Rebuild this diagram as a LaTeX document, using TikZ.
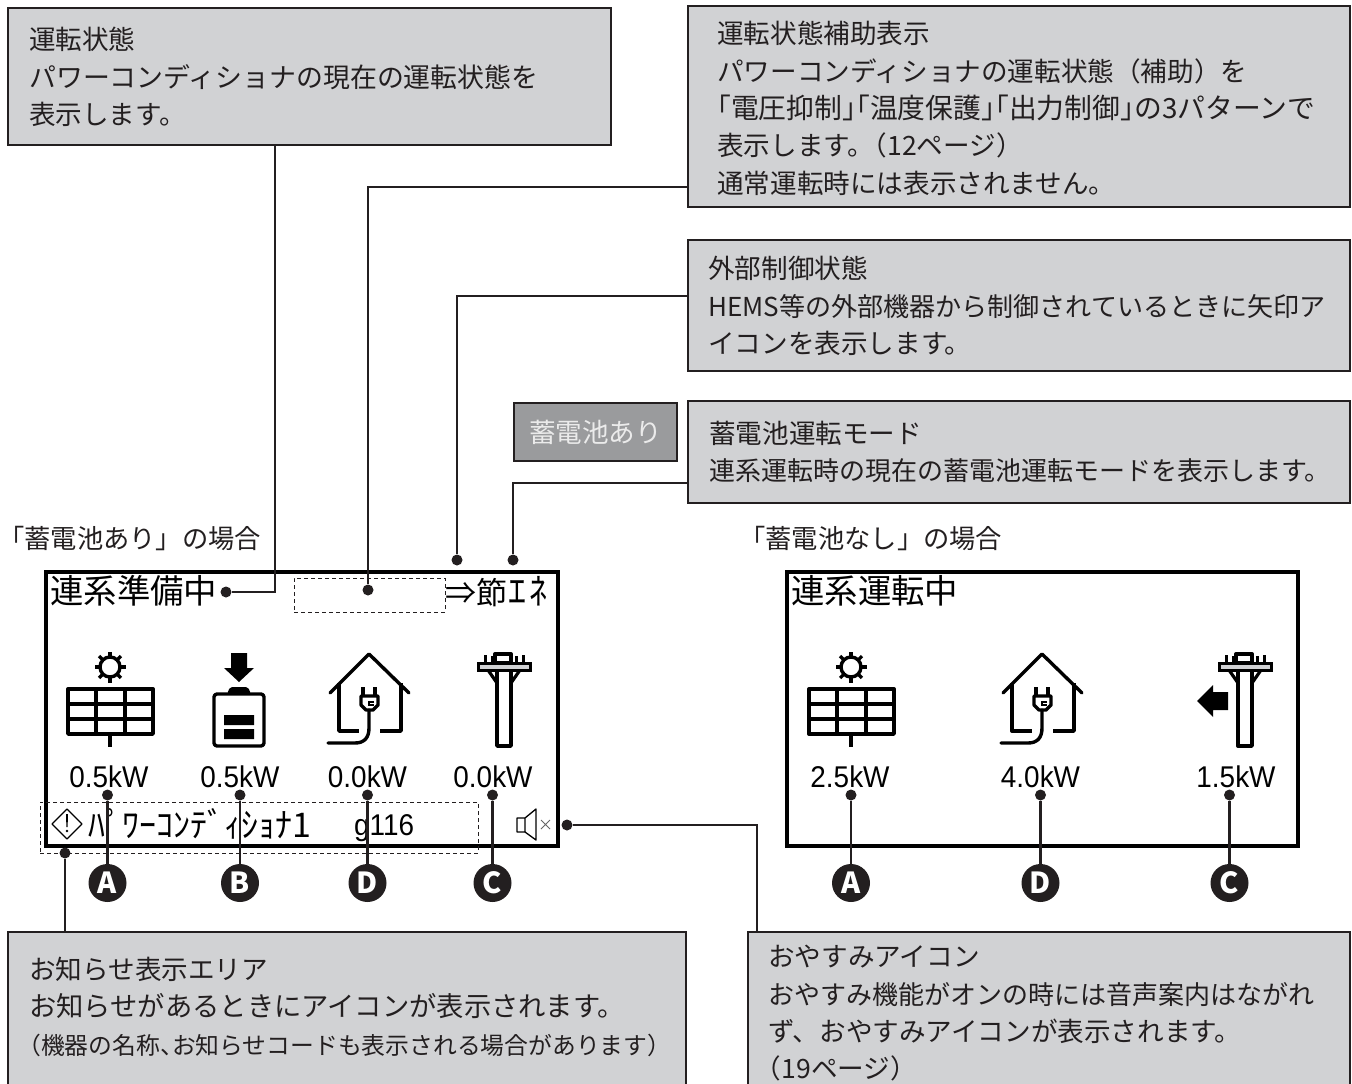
\documentclass[tikz,border=0pt]{standalone}
\usepackage{fontspec}
\setmainfont{Noto Sans CJK JP}
\newfontfamily\jpfont{Noto Sans CJK JP}
\newfontfamily\jptight[RawFeature=+halt]{Noto Sans CJK JP}
\newfontfamily\lcdfont[FakeStretch=0.93]{Liberation Sans}
\definecolor{boxgray}{HTML}{D1D2D4}
\definecolor{tabgray}{HTML}{9A9B9D}
\definecolor{inkline}{HTML}{231F20}
\tikzset{
  tipbox/.style={draw=inkline, fill=boxgray, line width=2.8pt, anchor=north west, inner sep=0pt, outer sep=0pt},
  tiptext/.style={anchor=north west, inner sep=0pt, align=left, text=inkline, font=\jpfont\fontsize{26.6}{37.4}\selectfont},
  lcdjp/.style={anchor=west, inner sep=0pt, font=\jpfont\fontsize{33.4}{36}\selectfont},
  lcdnum/.style={inner sep=0pt, font=\lcdfont\fontsize{30}{32}\selectfont},
  screen/.style={draw=black, line width=4.5pt, fill=white, anchor=north west, inner sep=0pt, outer sep=0pt},
  dashbox/.style={draw=inkline, line width=1pt, dash pattern=on 4pt off 3pt, anchor=north west, inner sep=0pt, outer sep=0pt},
  dot/.style={circle, fill=inkline, inner sep=0pt, minimum size=11pt},
  letter/.style={circle, fill=inkline, text=white, inner sep=0pt, minimum size=38pt, font=\jpfont\bfseries\fontsize{29}{29}\selectfont},
  link/.style={draw=inkline, line width=2.8pt},
  icon/.style={line width=3.4pt, line join=round},
  pics/solarpanel/.style={code={
    \draw[icon] (110,667) circle (10);
    \foreach \a in {0,45,...,315}{\draw[line width=3.2pt] (110,667) ++(\a:10) -- ++(\a:5.5);}
    \draw[icon] (68,689) rectangle (153,734);
    \draw[icon] (68,704) -- (153,704) (68,719) -- (153,719) (96,689) -- (96,734) (125,689) -- (125,734);
    \draw[icon] (110,734) -- (110,747);
  }},
  pics/batterypack/.style={code={
    \fill[black] (231,653) rectangle (247,668) (224,668) -- (254,668) -- (239,682) -- cycle;
    \draw[icon, rounded corners=3pt] (214,694) rectangle (264,746);
    \fill[black, rounded corners=2pt] (227,694) -- (230,687) -- (248,687) -- (251,694) -- cycle;
    \fill[black] (224,715) rectangle (254,725) (224,729) rectangle (254,739);
  }},
  pics/houseplug/.style={code={
    \draw[icon, line cap=round] (330,693) -- (369,654) -- (409,693);
    \draw[icon] (339,683) -- (339,731) -- (359,731) (401,683) -- (401,731) -- (380,731);
    \draw[icon] (363,687) -- (363,696) (375,687) -- (375,696);
    \draw[icon] (361,696) -- (378,696) -- (378,705) -- (373,710) -- (366,710) -- (361,705) -- cycle;
    \draw[line width=1.8pt] (374,702) -- (369,702) -- (369,705) -- (374,705);
    \draw[icon, line cap=round] (369,710) -- (369,728) .. controls (369,738) and (364,743) .. (355,743) -- (328,743);
  }},
  pics/polemast/.style={code={
    \draw[line width=3.2pt] (488,670) -- (497,683) (520,670) -- (511,683);
    \draw[icon, fill=white] (497,670) rectangle (511,746);
    \draw[line width=3pt, fill=boxgray] (478,663) rectangle (530,670);
    \draw[icon] (495,663) rectangle (511,654);
    \draw[line width=3pt] (485,663) -- (485,655) (492,663) -- (492,656) (516,663) -- (516,656) (523,663) -- (523,655);
  }},
  pics/speakeroff/.style={code={
    \draw[line width=1.3pt, line join=round] (517,818) rectangle (525,832) (525,818) -- (536,809) -- (536,840) -- (525,832);
    \draw[line width=0.8pt, draw=black!60] (541,820) -- (550,829) (550,820) -- (541,829);
  }},
  pics/noticemark/.style={code={
    \draw[line width=1.1pt, line join=round] (67,809) -- (82,824) -- (67,839) -- (52,824) -- cycle;
    \fill[black] (66,814) -- (68,814) -- (67.6,827) -- (66.4,827) -- cycle (67,831) circle (1.4);
  }}
}
\begin{document}
\begin{tikzpicture}[x=1pt,y=-1pt]
\useasboundingbox (0,0) rectangle (1352,1084);
\node[screen, minimum width=512pt, minimum height=274pt] (lscreen) at (46,572){};
\node[screen, minimum width=511pt, minimum height=274pt] (rscreen) at (787,572){};
\node[dashbox, minimum width=151pt, minimum height=34pt] (assistarea) at (294,578){};
\node[dashbox, minimum width=438pt, minimum height=51pt] (noticearea) at (40,802){};
\node[tipbox, minimum width=603pt, minimum height=137pt] (boxrun) at (8,8){};
\node[tipbox, minimum width=662pt, minimum height=201pt] (boxassist) at (688,6){};
\node[tipbox, minimum width=662pt, minimum height=131pt] (boxext) at (688,240){};
\node[tipbox, minimum width=662pt, minimum height=102pt] (boxmode) at (688,401){};
\node[tipbox, minimum width=678pt, minimum height=170pt] (boxnotice) at (8,932){};
\node[tipbox, minimum width=602pt, minimum height=170pt] (boxsleep) at (748,932){};
\node[draw=inkline, fill=tabgray, line width=2.8pt, inner sep=0pt, outer sep=0pt, anchor=north west, minimum width=163pt, minimum height=58pt, text=white!92!black, font=\jpfont\fontsize{26.6}{30}\selectfont] (tabmode) at (514,403){蓄電池あり};
\node[tiptext] (txtrun) at (29,27){運転状態\\{\fontsize{26.9}{37.4}\selectfont パワーコンディショナの現在の運転状態を}\\表示します。};
\node[tiptext] (txtassist) at (717,21){運転状態補助表示\\パワーコンディショナの運転状態（補助）を\\{\fontsize{27.8}{37.4}\selectfont\jptight 「電圧抑制」「温度保護」「出力制御」}{\fontsize{27.8}{37.4}\selectfont の3パターンで}\\表示します。{\jptight（}12ページ{\jptight）}\\通常運転時には表示されません。};
\node[tiptext] (txtext) at (708,256){外部制御状態\\{\fontsize{26.05}{37.4}\selectfont HEMS等の外部機器から制御されているときに矢印ア}\\イコンを表示します。};
\node[tiptext] (txtmode) at (709,421){蓄電池運転モード\\{\fontsize{26}{37.4}\selectfont 連系運転時の現在の蓄電池運転モードを表示します。}};
\node[tiptext] (txtnotice) at (29,957){お知らせ表示エリア\\{\fontsize{27.3}{37.4}\selectfont お知らせがあるときにアイコンが表示されます。}\\{\fontsize{23.8}{37.4}\selectfont\jptight （機器の名称、お知らせコードも表示される場合があります）}};
\node[tiptext] (txtsleep) at (768,945){おやすみアイコン\\{\fontsize{26}{37.4}\selectfont おやすみ機能がオンの時には音声案内はながれ}\\ず、おやすみアイコンが表示されます。\\{\jptight（}19ページ{\jptight）}};
\node[anchor=west, inner sep=0pt, text=inkline, font=\jpfont\fontsize{26.3}{30}\selectfont] (capwith) at (-2,538){「蓄電池あり」の場合};
\node[anchor=west, inner sep=0pt, text=inkline, font=\jpfont\fontsize{26.3}{30}\selectfont] (capwithout) at (739,538){「蓄電池なし」の場合};
\node[lcdjp] (statusl) at (50,591){連系準備中};
\node[lcdjp] (statusr) at (791,591){連系運転中};
\node[anchor=west, inner sep=0pt, font=\jpfont\fontsize{31}{34}\selectfont] (modetxt) at (445,592){⇒節\kern1.5pt{\fontsize{36}{34}\selectfont ｴ\kern3pt ﾈ}};
\node[lcdnum] (kwa) at (109,777){0.5kW};
\node[lcdnum] (kwb) at (240,777){0.5kW};
\node[lcdnum] (kwd) at (367.5,777){0.0kW};
\node[lcdnum] (kwc) at (493,777){0.0kW};
\node[lcdnum] (kwra) at (850,777){2.5kW};
\node[lcdnum] (kwrd) at (1040.5,777){4.0kW};
\node[lcdnum] (kwrc) at (1236,777){1.5kW};
\node[anchor=west, inner sep=0pt, font=\jpfont\fontsize{34}{36}\selectfont] (unitname) at (88,824){ﾊﾟﾜｰｺﾝﾃﾞｨｼｮﾅ1};
\node[anchor=west, inner sep=0pt, font=\lcdfont\fontsize{30}{32}\selectfont] (unitcode) at (354,828){g116};
\pic at (0,0) {noticemark};
\pic at (0,0) {speakeroff};
\pic at (0,0) {solarpanel};
\pic at (0,0) {batterypack};
\pic at (0,0) {houseplug};
\pic at (0,0) {polemast};
\pic at (741,0) {solarpanel};
\pic at (673,0) {houseplug};
\pic at (741,0) {polemast};
\fill[black] (1228,692) -- (1213,692) -- (1213,685) -- (1197,701) -- (1213,717) -- (1213,710) -- (1228,710) -- cycle;
\node[dot] (dotrun) at (226,592){};
\node[dot] (dotassist) at (368,590){};
\node[dot] (dotext) at (457,560){};
\node[dot] (dotmode) at (513,560){};
\node[dot] (dotsleep) at (567,825){};
\node[dot] (dotnotice) at (65,853){};
\node[dot] (dota) at (107.5,795){};
\node[dot] (dotb) at (240,795){};
\node[dot] (dotd) at (367.5,795){};
\node[dot] (dotc) at (492.5,795){};
\node[dot] (dotra) at (851,795){};
\node[dot] (dotrd) at (1040.5,795){};
\node[dot] (dotrc) at (1229.5,795){};
\node[letter] (cira) at (107.5,883){A};
\node[letter] (cirb) at (240,883){B};
\node[letter] (cird) at (367.5,883){D};
\node[letter] (circ) at (492.5,883){C};
\node[letter] (cirra) at (851,883){A};
\node[letter] (cirrd) at (1040.5,883){D};
\node[letter] (cirrc) at (1229.5,883){C};
\coordinate (kneerun) at (275,592);
\coordinate (kneeassist) at (368,187);
\coordinate (kneeext) at (457,296);
\coordinate (kneemode) at (513,483);
\coordinate (kneesleep) at (757,825);
\draw[link] (boxrun.south -| kneerun) -- (kneerun) -- (dotrun);
\draw[link] (boxassist.west |- kneeassist) -- (kneeassist) -- (dotassist);
\draw[link] (boxext.west |- kneeext) -- (kneeext) -- (dotext);
\draw[link] (boxmode.west |- kneemode) -- (kneemode) -- (dotmode);
\draw[link] (boxsleep.north -| kneesleep) -- (kneesleep) -- (dotsleep);
\draw[link] (boxnotice.north -| dotnotice) -- (dotnotice);
\draw[link] (dota) -- (cira);
\draw[link] (dotb) -- (cirb);
\draw[link] (dotd) -- (cird);
\draw[link] (dotc) -- (circ);
\draw[link] (dotra) -- (cirra);
\draw[link] (dotrd) -- (cirrd);
\draw[link] (dotrc) -- (cirrc);
\end{tikzpicture}
\end{document}
